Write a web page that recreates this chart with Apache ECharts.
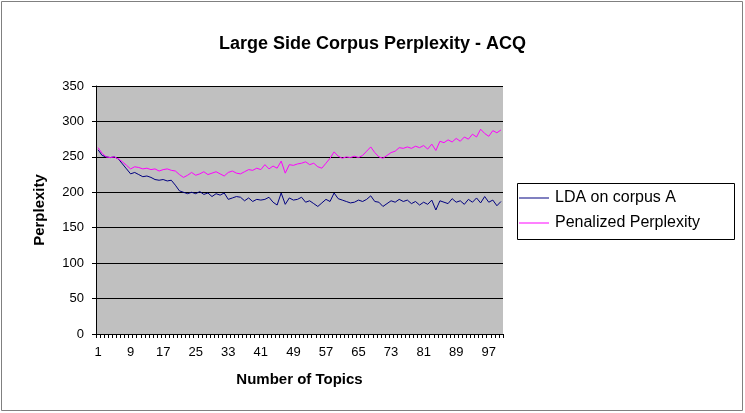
<!DOCTYPE html>
<html>
<head>
<meta charset="utf-8">
<script src="https://cdn.jsdelivr.net/npm/echarts@6/dist/echarts.min.js"></script>
<style>
  html, body { margin: 0; padding: 0; background: #fff; }
  #chart { width: 745px; height: 413px; }
</style>
</head>
<body>
<div id="chart"></div>
<script>
// Number of topics 1..100
const topics = [];
for (let t = 1; t <= 100; t++) topics.push(String(t));

// Perplexity of LDA trained on corpus A
const ldaCorpusA = [
  260, 252, 250, 249, 250, 247, 240, 233, 226, 228,
  225, 222, 223, 221, 218, 217, 218, 216, 217, 210,
  202, 200, 198, 200, 198, 201, 197, 199, 194, 198,
  196, 199, 190, 192, 194, 193, 188, 192, 187, 190,
  189, 190, 193, 186, 182, 199, 183, 192, 189, 190,
  193, 186, 188, 184, 180, 185, 190, 187, 199, 191,
  189, 187, 185, 186, 189, 187, 190, 195, 187, 186,
  180, 184, 188, 186, 190, 187, 189, 184, 187, 182,
  186, 183, 189, 175, 188, 186, 184, 191, 186, 188,
  183, 190, 186, 192, 185, 194, 186, 189, 181, 187
];

// Penalized perplexity
const penalized = [
  263, 255, 250, 249, 250, 247, 243, 238, 233, 236,
  235, 233, 234, 232, 233, 230, 232, 233, 231, 230,
  225, 221, 224, 228, 224, 226, 229, 225, 227, 229,
  226, 223, 228, 230, 227, 226, 229, 232, 231, 234,
  232, 239, 233, 237, 234, 244, 227, 239, 238, 240,
  241, 243, 239, 241, 236, 234, 241, 248, 257, 251,
  248, 250, 249, 251, 249, 252, 258, 264, 256, 250,
  248, 252, 256, 258, 263, 262, 264, 262, 265, 263,
  266, 261, 268, 259, 272, 270, 274, 271, 276, 272,
  278, 275, 282, 278, 289, 283, 279, 287, 284, 288
];

const yTicks = [0, 50, 100, 150, 200, 250, 300, 350];

const FONT = 'Liberation Sans, Arial, sans-serif';
const chart = echarts.init(document.getElementById('chart'), null, { renderer: 'canvas' });

chart.setOption({
  backgroundColor: '#ffffff',
  animation: false,
  title: {
    text: 'Large Side Corpus Perplexity - ACQ',
    left: 'center',
    top: 30,
    textStyle: { fontFamily: FONT, fontSize: 18, fontWeight: 'bold', color: '#000' }
  },
  legend: {
    orient: 'vertical',
    left: 519,
    top: 190,
    padding: 0,
    itemGap: 9,
    itemWidth: 30,
    itemHeight: 1,
    icon: 'rect',
    textStyle: { fontFamily: FONT, fontSize: 16, color: '#000', padding: [0, 0, 0, 1] },
    data: ['LDA on corpus A', 'Penalized Perplexity']
  },
  graphic: [
    { type: 'rect', shape: { x: 1.5, y: 1.5, width: 741, height: 409 },
      style: { fill: 'none', stroke: '#808080', lineWidth: 1 } },
    { type: 'rect', shape: { x: 517.5, y: 183.5, width: 217, height: 56 },
      style: { fill: 'none', stroke: '#000', lineWidth: 1 } }
  ],
  grid: {
    left: 96, right: 242, top: 86, bottom: 79,
    show: true, backgroundColor: '#c0c0c0', borderWidth: 0
  },
  xAxis: {
    type: 'category',
    data: topics,
    boundaryGap: true,
    name: 'Number of Topics',
    nameLocation: 'middle',
    nameGap: 38,
    nameTextStyle: { fontFamily: FONT, fontSize: 15, fontWeight: 'bold', color: '#000' },
    axisLine: { lineStyle: { color: '#000', width: 1 } },
    axisTick: { show: true, interval: 0, length: 4, lineStyle: { color: '#000' } },
    axisLabel: { interval: 7, fontFamily: FONT, fontSize: 13, color: '#000', margin: 12 },
    splitLine: { show: false }
  },
  yAxis: {
    type: 'value',
    min: yTicks[0],
    max: yTicks[yTicks.length - 1],
    interval: 50,
    name: 'Perplexity',
    nameLocation: 'middle',
    nameGap: 49,
    nameRotate: 90,
    nameTextStyle: { fontFamily: FONT, fontSize: 15, fontWeight: 'bold', color: '#000' },
    axisLine: { show: true, lineStyle: { color: '#000', width: 1 } },
    axisTick: { show: true, length: 4, lineStyle: { color: '#000' } },
    axisLabel: { fontFamily: FONT, fontSize: 13, color: '#000', margin: 12 },
    splitLine: { show: true, lineStyle: { color: '#000', width: 1 } }
  },
  series: [
    {
      name: 'LDA on corpus A',
      type: 'line',
      data: ldaCorpusA,
      symbol: 'none',
      lineStyle: { color: '#000080', width: 1 },
      itemStyle: { color: '#000080' }
    },
    {
      name: 'Penalized Perplexity',
      type: 'line',
      data: penalized,
      symbol: 'none',
      lineStyle: { color: '#ff00ff', width: 1 },
      itemStyle: { color: '#ff00ff' }
    }
  ]
});
</script>
</body>
</html>
